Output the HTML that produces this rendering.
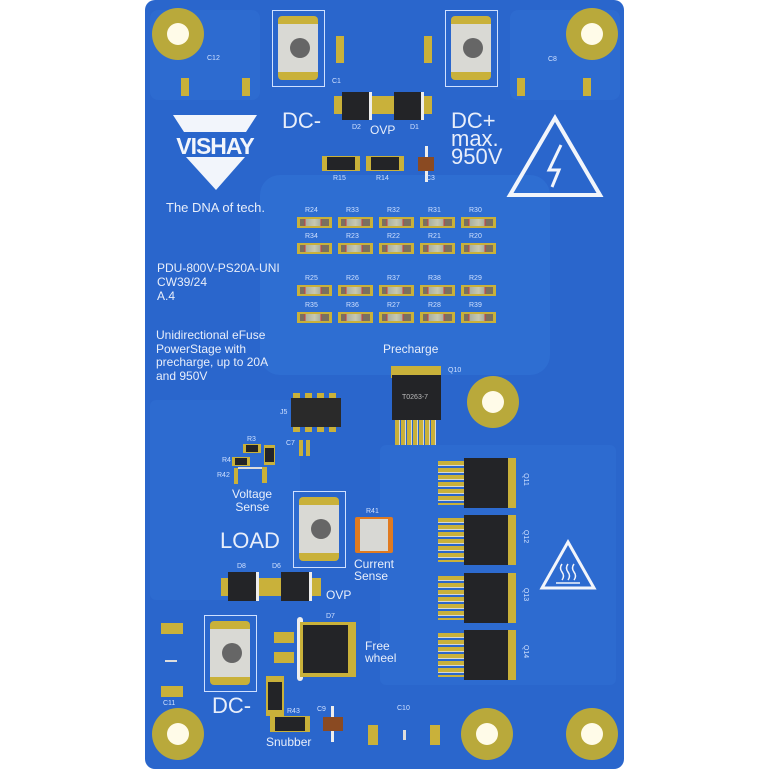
<!DOCTYPE html>
<html><head><meta charset="utf-8">
<style>
*{margin:0;padding:0;box-sizing:border-box}
body{width:769px;height:769px;background:#fff;position:relative;overflow:hidden;font-family:"Liberation Sans",sans-serif}
.a{position:absolute}
.t{position:absolute;color:#e8eefa;white-space:nowrap;line-height:1}
.s{font-size:7px;color:#cfe0ff}
.hole{position:absolute;width:52px;height:52px;border-radius:50%;background:#b9a93b;}
.hole::after{content:"";position:absolute;left:15px;top:15px;width:22px;height:22px;border-radius:50%;background:#fffbe8}
.term{position:absolute;width:53px;height:77px;border:1.5px solid #cfe0ff}
.term .b{position:absolute;left:5px;top:5px;width:40px;height:64px;background:#d9d9d4;border-top:8px solid #c9b13a;border-bottom:8px solid #c9b13a;border-radius:4px}
.term .c{position:absolute;left:17px;top:27px;width:20px;height:20px;border-radius:50%;background:#666}
.res{position:absolute;width:35px;height:11px;background:#c9b13a;}
.res::after{content:"";position:absolute;left:3px;top:2px;width:29px;height:7px;background:linear-gradient(90deg,#7a7060 0,#7a7060 15%,#d04040 15%,#d04040 19%,#a8b0a0 19%,#c8c8b0 50%,#a8b0a0 70%,#d04040 70%,#d04040 74%,#7a7060 74%)}
.blk{position:absolute;background:#232427}
.pad{position:absolute;background:#c9b13a}
</style></head><body>
<div class="a" style="left:145px;top:0;width:479px;height:769px;background:#2a66cc;border-radius:10px"></div>
<div class="a" style="left:260px;top:175px;width:290px;height:200px;background:#2e6ed2;border-radius:20px"></div>
<div class="a" style="left:150px;top:10px;width:110px;height:90px;background:#2d6bd0;border-radius:8px"></div>
<div class="a" style="left:510px;top:10px;width:110px;height:90px;background:#2d6bd0;border-radius:8px"></div>
<div class="a" style="left:380px;top:445px;width:236px;height:240px;background:#2d6bd0;border-radius:6px"></div>
<div class="a" style="left:150px;top:400px;width:150px;height:200px;background:#2d6bd0;border-radius:6px"></div>

<div class="hole" style="left:152px;top:8px"></div>
<div class="hole" style="left:566px;top:8px"></div>
<div class="hole" style="left:467px;top:376px"></div>
<div class="hole" style="left:152px;top:708px"></div>
<div class="hole" style="left:461px;top:708px"></div>
<div class="hole" style="left:566px;top:708px"></div>

<div class="term" style="left:272px;top:10px"><div class="b"></div><div class="c"></div></div>
<div class="term" style="left:445px;top:10px"><div class="b"></div><div class="c"></div></div>
<div class="term" style="left:293px;top:491px"><div class="b"></div><div class="c"></div></div>
<div class="term" style="left:204px;top:615px"><div class="b"></div><div class="c"></div></div>

<div class="pad" style="left:181px;top:78px;width:8px;height:18px"></div>
<div class="pad" style="left:242px;top:78px;width:8px;height:18px"></div>
<div class="pad" style="left:336px;top:36px;width:8px;height:27px"></div>
<div class="pad" style="left:424px;top:36px;width:8px;height:27px"></div>
<div class="pad" style="left:517px;top:78px;width:8px;height:18px"></div>
<div class="pad" style="left:583px;top:78px;width:8px;height:18px"></div>
<div class="t s" style="left:207px;top:55px">C12</div>
<div class="t s" style="left:332px;top:78px">C1</div>
<div class="t s" style="left:548px;top:56px">C8</div>

<div class="pad" style="left:334px;top:96px;width:60px;height:18px"></div>
<div class="blk" style="left:342px;top:92px;width:30px;height:28px;border-right:3px solid #eee"></div>
<div class="pad" style="left:386px;top:96px;width:46px;height:18px"></div>
<div class="blk" style="left:394px;top:92px;width:30px;height:28px;border-right:3px solid #eee"></div>
<div class="t s" style="left:352px;top:124px">D2</div>
<div class="t s" style="left:410px;top:124px">D1</div>
<div class="t" style="left:370px;top:124px;font-size:12px">OVP</div>
<div class="t" style="left:282px;top:110px;font-size:22px">DC-</div>
<div class="t" style="left:451px;top:112px;font-size:22px;line-height:18px">DC+<br>max.<br>950V</div>

<div class="pad" style="left:322px;top:156px;width:38px;height:15px"></div>
<div class="blk" style="left:327px;top:157px;width:28px;height:13px"></div>
<div class="pad" style="left:366px;top:156px;width:38px;height:15px"></div>
<div class="blk" style="left:371px;top:157px;width:28px;height:13px"></div>
<div class="a" style="left:425px;top:146px;width:3px;height:36px;background:#eee"></div>
<div class="a" style="left:418px;top:157px;width:16px;height:14px;background:#8a4a22"></div>
<div class="t s" style="left:333px;top:175px">R15</div>
<div class="t s" style="left:376px;top:175px">R14</div>
<div class="t s" style="left:426px;top:175px">C3</div>

<svg class="a" style="left:165px;top:112px" width="100" height="80">
<polygon points="8,3 92,3 81,20 19,20" fill="#f2f5fb"/>
<polygon points="21,45 80,45 51,78" fill="#f2f5fb"/>
<text x="50" y="42" text-anchor="middle" font-family="Liberation Sans" font-weight="bold" font-size="23" fill="#f2f5fb" letter-spacing="-1">VISHAY</text>
</svg>
<div class="t" style="left:166px;top:201px;font-size:13px">The DNA of tech.</div>

<svg class="a" style="left:505px;top:113px" width="100" height="88">
<polygon points="50,5 95,82 5,82" fill="none" stroke="#f2f5fb" stroke-width="4"/>
<polyline points="56,32 44,57 54,57 47,74" fill="none" stroke="#f2f5fb" stroke-width="3"/>
</svg>

<div class="res" style="left:297px;top:217px"></div><div class="res" style="left:338px;top:217px"></div><div class="res" style="left:379px;top:217px"></div><div class="res" style="left:420px;top:217px"></div><div class="res" style="left:461px;top:217px"></div>
<div class="res" style="left:297px;top:243px"></div><div class="res" style="left:338px;top:243px"></div><div class="res" style="left:379px;top:243px"></div><div class="res" style="left:420px;top:243px"></div><div class="res" style="left:461px;top:243px"></div>
<div class="res" style="left:297px;top:285px"></div><div class="res" style="left:338px;top:285px"></div><div class="res" style="left:379px;top:285px"></div><div class="res" style="left:420px;top:285px"></div><div class="res" style="left:461px;top:285px"></div>
<div class="res" style="left:297px;top:312px"></div><div class="res" style="left:338px;top:312px"></div><div class="res" style="left:379px;top:312px"></div><div class="res" style="left:420px;top:312px"></div><div class="res" style="left:461px;top:312px"></div>
<div class="t s" style="left:305px;top:207px">R24</div><div class="t s" style="left:346px;top:207px">R33</div><div class="t s" style="left:387px;top:207px">R32</div><div class="t s" style="left:428px;top:207px">R31</div><div class="t s" style="left:469px;top:207px">R30</div>
<div class="t s" style="left:305px;top:233px">R34</div><div class="t s" style="left:346px;top:233px">R23</div><div class="t s" style="left:387px;top:233px">R22</div><div class="t s" style="left:428px;top:233px">R21</div><div class="t s" style="left:469px;top:233px">R20</div>
<div class="t s" style="left:305px;top:275px">R25</div><div class="t s" style="left:346px;top:275px">R26</div><div class="t s" style="left:387px;top:275px">R37</div><div class="t s" style="left:428px;top:275px">R38</div><div class="t s" style="left:469px;top:275px">R29</div>
<div class="t s" style="left:305px;top:302px">R35</div><div class="t s" style="left:346px;top:302px">R36</div><div class="t s" style="left:387px;top:302px">R27</div><div class="t s" style="left:428px;top:302px">R28</div><div class="t s" style="left:469px;top:302px">R39</div>

<div class="t" style="left:157px;top:261px;font-size:12px;line-height:14px">PDU-800V-PS20A-UNI<br>CW39/24<br>A.4</div>
<div class="t" style="left:156px;top:329px;font-size:12px;line-height:13.5px">Unidirectional eFuse<br>PowerStage with<br>precharge, up to 20A<br>and 950V</div>
<div class="t" style="left:383px;top:343px;font-size:12px">Precharge</div>

<div class="pad" style="left:391px;top:366px;width:50px;height:12px"></div>
<div class="blk" style="left:392px;top:375px;width:49px;height:45px"></div>
<div class="t" style="left:402px;top:394px;font-size:7px;color:#bbb">T0263-7</div>
<div class="a" style="left:395px;top:420px;width:42px;height:25px;background:repeating-linear-gradient(90deg,#c9b13a 0,#c9b13a 4px,#d8d8d0 4px,#d8d8d0 5px,#2a66cc 5px,#2a66cc 6px)"></div>
<div class="t s" style="left:448px;top:367px">Q10</div>

<div class="a" style="left:293px;top:393px;width:47px;height:39px;background:repeating-linear-gradient(90deg,#c9b13a 0,#c9b13a 7px,#2a66cc 7px,#2a66cc 12px)"></div>
<div class="a" style="left:291px;top:398px;width:50px;height:29px;background:#2a2a2a"></div>
<div class="t s" style="left:280px;top:409px">J5</div>
<div class="t s" style="left:286px;top:440px">C7</div>
<div class="pad" style="left:299px;top:440px;width:4px;height:16px"></div>
<div class="pad" style="left:306px;top:440px;width:4px;height:16px"></div>

<div class="pad" style="left:243px;top:444px;width:18px;height:9px"></div><div class="blk" style="left:246px;top:445px;width:12px;height:7px"></div>
<div class="pad" style="left:264px;top:445px;width:11px;height:20px"></div><div class="blk" style="left:265px;top:448px;width:9px;height:14px"></div>
<div class="pad" style="left:232px;top:457px;width:18px;height:9px"></div><div class="blk" style="left:235px;top:458px;width:12px;height:7px"></div>
<div class="pad" style="left:234px;top:468px;width:4px;height:16px"></div>
<div class="a" style="left:238px;top:467px;width:24px;height:2px;background:#ddd"></div>
<div class="pad" style="left:262px;top:467px;width:5px;height:16px"></div>
<div class="t s" style="left:247px;top:436px">R3</div>
<div class="t s" style="left:222px;top:457px">R4</div>
<div class="t s" style="left:217px;top:472px">R42</div>
<div class="t" style="left:232px;top:488px;font-size:12px;line-height:13px">Voltage<br>&nbsp;Sense</div>
<div class="t" style="left:220px;top:530px;font-size:22px">LOAD</div>

<div class="a" style="left:355px;top:517px;width:38px;height:36px;background:#e07a20;border-radius:2px"></div>
<div class="a" style="left:360px;top:519px;width:28px;height:32px;background:#d8d8d4"></div>
<div class="t s" style="left:366px;top:508px">R41</div>
<div class="t" style="left:354px;top:558px;font-size:12px;line-height:12px">Current<br>Sense</div>

<div class="pad" style="left:221px;top:578px;width:100px;height:18px"></div>
<div class="blk" style="left:228px;top:572px;width:31px;height:29px;border-right:3px solid #eee"></div>
<div class="blk" style="left:281px;top:572px;width:31px;height:29px;border-right:3px solid #eee"></div>
<div class="t s" style="left:237px;top:563px">D8</div>
<div class="t s" style="left:272px;top:563px">D6</div>
<div class="t" style="left:326px;top:589px;font-size:12px">OVP</div>

<div class="pad" style="left:274px;top:632px;width:20px;height:11px"></div>
<div class="pad" style="left:274px;top:652px;width:20px;height:11px"></div>
<div class="a" style="left:297px;top:617px;width:6px;height:64px;background:#eee;border-radius:3px"></div>
<div class="pad" style="left:300px;top:622px;width:56px;height:55px"></div>
<div class="blk" style="left:303px;top:625px;width:45px;height:48px"></div>
<div class="t s" style="left:326px;top:613px">D7</div>
<div class="t" style="left:365px;top:640px;font-size:12px;line-height:12px">Free<br>wheel</div>

<div class="pad" style="left:266px;top:676px;width:18px;height:40px"></div>
<div class="blk" style="left:268px;top:682px;width:14px;height:28px"></div>
<div class="pad" style="left:270px;top:716px;width:40px;height:16px"></div>
<div class="blk" style="left:275px;top:717px;width:30px;height:14px"></div>
<div class="a" style="left:331px;top:706px;width:3px;height:36px;background:#eee"></div>
<div class="a" style="left:323px;top:717px;width:20px;height:14px;background:#8a4a22"></div>
<div class="t s" style="left:287px;top:708px">R43</div>
<div class="t s" style="left:317px;top:706px">C9</div>
<div class="t" style="left:212px;top:695px;font-size:22px">DC-</div>
<div class="t" style="left:266px;top:736px;font-size:12px">Snubber</div>

<div class="pad" style="left:161px;top:623px;width:22px;height:11px"></div>
<div class="a" style="left:165px;top:660px;width:12px;height:2px;background:#ddd"></div>
<div class="pad" style="left:161px;top:686px;width:22px;height:11px"></div>
<div class="t s" style="left:163px;top:700px">C11</div>

<div class="pad" style="left:368px;top:725px;width:10px;height:20px"></div>
<div class="a" style="left:403px;top:730px;width:3px;height:10px;background:#ddd"></div>
<div class="pad" style="left:430px;top:725px;width:10px;height:20px"></div>
<div class="t s" style="left:397px;top:705px">C10</div>

<div class="a" style="left:438px;top:461px;width:26px;height:44px;background:repeating-linear-gradient(180deg,#c9b13a 0,#c9b13a 4px,#d8d8d0 4px,#d8d8d0 5px,#2a66cc 5px,#2a66cc 7px)"></div>
<div class="blk" style="left:464px;top:458px;width:44px;height:50px"></div><div class="pad" style="left:508px;top:458px;width:8px;height:50px"></div>
<div class="a" style="left:438px;top:518px;width:26px;height:44px;background:repeating-linear-gradient(180deg,#c9b13a 0,#c9b13a 4px,#d8d8d0 4px,#d8d8d0 5px,#2a66cc 5px,#2a66cc 7px)"></div>
<div class="blk" style="left:464px;top:515px;width:44px;height:50px"></div><div class="pad" style="left:508px;top:515px;width:8px;height:50px"></div>
<div class="a" style="left:438px;top:576px;width:26px;height:44px;background:repeating-linear-gradient(180deg,#c9b13a 0,#c9b13a 4px,#d8d8d0 4px,#d8d8d0 5px,#2a66cc 5px,#2a66cc 7px)"></div>
<div class="blk" style="left:464px;top:573px;width:44px;height:50px"></div><div class="pad" style="left:508px;top:573px;width:8px;height:50px"></div>
<div class="a" style="left:438px;top:633px;width:26px;height:44px;background:repeating-linear-gradient(180deg,#c9b13a 0,#c9b13a 4px,#d8d8d0 4px,#d8d8d0 5px,#2a66cc 5px,#2a66cc 7px)"></div>
<div class="blk" style="left:464px;top:630px;width:44px;height:50px"></div><div class="pad" style="left:508px;top:630px;width:8px;height:50px"></div>
<div class="t s" style="left:519px;top:476px;transform:rotate(90deg)">Q11</div>
<div class="t s" style="left:519px;top:533px;transform:rotate(90deg)">Q12</div>
<div class="t s" style="left:519px;top:591px;transform:rotate(90deg)">Q13</div>
<div class="t s" style="left:519px;top:648px;transform:rotate(90deg)">Q14</div>

<svg class="a" style="left:538px;top:538px" width="60" height="54">
<polygon points="30,4 56,50 4,50" fill="none" stroke="#f2f5fb" stroke-width="3"/>
<path d="M24,26 q-3,4 0,8 q3,4 0,8 M30,26 q-3,4 0,8 q3,4 0,8 M36,26 q-3,4 0,8 q3,4 0,8" fill="none" stroke="#f2f5fb" stroke-width="1.5"/>
<line x1="18" y1="45" x2="42" y2="45" stroke="#f2f5fb" stroke-width="1.5"/>
</svg>
</body></html>
